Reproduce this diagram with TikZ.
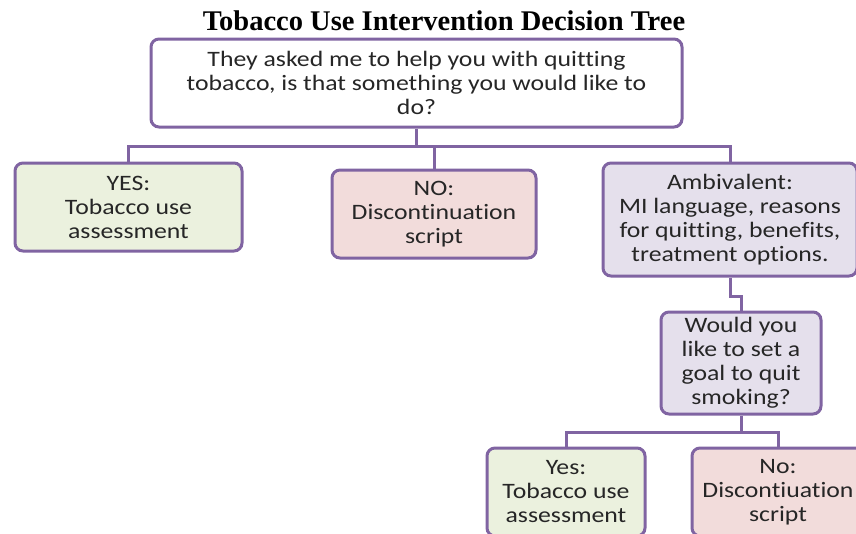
\documentclass[tikz,border=0pt]{standalone}
\usepackage{fontspec}
\setmainfont{Carlito}[Ligatures=CommonOff, FakeStretch=1.17]
\newfontfamily\titlefont{Liberation Serif}
\usetikzlibrary{positioning,calc}

\definecolor{treeline}{HTML}{8064A2}
\definecolor{yesgreen}{HTML}{EBF1DE}
\definecolor{nopink}{HTML}{F2DCDB}
\definecolor{ambililac}{HTML}{E5E0EC}
\definecolor{boxtext}{HTML}{262626}

\begin{document}
\begin{tikzpicture}[x=1pt, y=-1pt]
\tikzstyle{box} = [rectangle, draw=treeline, line width=3pt, rounded corners=8pt, align=center, text=boxtext, font=\fontsize{22}{24}\selectfont, inner sep=0pt]
\tikzstyle{yesbox} = [box, fill=yesgreen]
\tikzstyle{nobox} = [box, fill=nopink]
\tikzstyle{ambibox} = [box, fill=ambililac]
\tikzstyle{line} = [draw=treeline, line width=3pt]

\useasboundingbox (0,0) rectangle (856,533);

\node [font=\titlefont\bfseries\fontsize{28.5}{32}\selectfont] (title) at (444,21) {Tobacco Use Intervention Decision Tree};

% Decision boxes

\node [box, fill=white, minimum width=531pt, minimum height=88pt] (question) at (416.5,83) {They asked me to help you with quitting\\tobacco, is that something you would like to\\do?};

\node [yesbox, minimum width=227pt, minimum height=88pt] (yes) at (128.5,207) {YES:\\Tobacco use\\assessment};

\node [nobox, minimum width=204pt, minimum height=88pt] (no) at (434,214) {NO:\\Discontinuation\\script};

\node [ambibox, minimum width=254pt, minimum height=113pt] (ambivalent) at (730,219.5) {Ambivalent:\\MI language, reasons\\for quitting, benefits,\\treatment options.};

\node [ambibox, minimum width=160pt, minimum height=102pt] (goal) at (741,363) {Would you\\like to set a\\goal to quit\\smoking?};

\node [yesbox, minimum width=158pt, minimum height=88pt] (goalYes) at (566,492) {Yes:\\Tobacco use\\assessment};

\node [nobox, minimum width=172pt, minimum height=88pt] (goalNo) at (778,492) {No:\\Discontiuation\\script};

% Connections
\coordinate (hub) at (416.5,146);
\coordinate (split) at (741,432);
\draw [line] (question) -- (hub);
\draw [line] (hub) -| (yes);
\draw [line] (hub) -| (no);
\draw [line] (hub) -| (ambivalent);
\draw [line] (ambivalent.south) -- ++(0,19) -| (goal.north);
\draw [line] (goal) -- (split);
\draw [line] (split) -| (goalYes);
\draw [line] (split) -| (goalNo);

\end{tikzpicture}
\end{document}
